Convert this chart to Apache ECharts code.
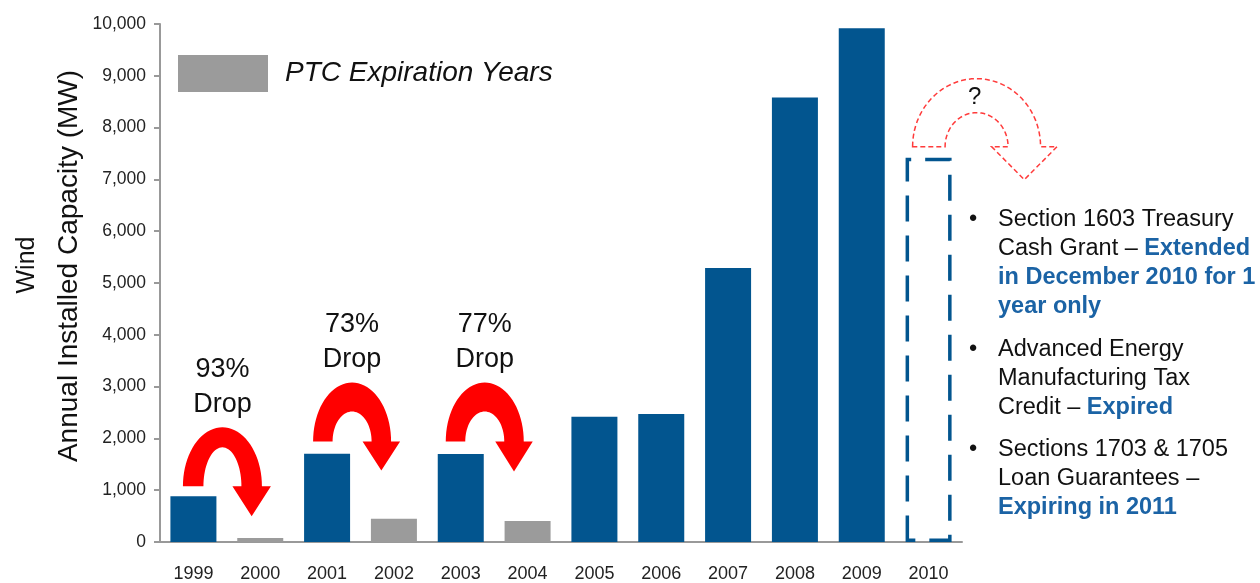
<!DOCTYPE html>
<html>
<head>
<meta charset="utf-8">
<script src="https://cdn.jsdelivr.net/npm/echarts@6/dist/echarts.min.js"></script>
<style>
html,body{margin:0;padding:0;background:#fff}
#main{width:1260px;height:583px}
</style>
</head>
<body>
<div id="main"></div>
<script>
// data
var years = ['1999', '2000', '2001', '2002', '2003', '2004', '2005', '2006', '2007', '2008', '2009', '2010'];
var capacity = [885, 75, 1705, 450, 1700, 405, 2420, 2470, 5290, 8580, 9920, '-'];
var ptcYears = ['2000', '2002', '2004'];
var pendingYear = '2010';
var pendingValue = 7420;
var dropLabels = ['93%', '73%', '77%'];
var dropFrom = ['1999', '2001', '2003'];

var notes = [
  [[['n', 'Section 1603 Treasury']], [['n', 'Cash Grant – '], ['b', 'Extended']], [['b', 'in December 2010 for 1']], [['b', 'year only']]],
  [[['n', 'Advanced Energy']], [['n', 'Manufacturing Tax']], [['n', 'Credit – '], ['b', 'Expired']]],
  [[['n', 'Sections 1703 & 1705']], [['n', 'Loan Guarantees – ']], [['b', 'Expiring in 2011']]]
];

var BLUE = '#02558F', GREY = '#9B9B9B', TXTBLUE = '#1B63A5', FONT = "'Liberation Sans', Arial, sans-serif";

var mainData = [], ptcData = [], pendData = [];
for (var i = 0; i < years.length; i++) {
  var isPtc = ptcYears.indexOf(years[i]) >= 0;
  mainData.push(isPtc ? '-' : capacity[i]);
  ptcData.push(isPtc ? capacity[i] : '-');
  pendData.push(years[i] === pendingYear ? pendingValue : '-');
}

function fmt(v) { return String(v).replace(/\B(?=(\d{3})+(?!\d))/g, ','); }

var chart = echarts.init(document.getElementById('main'));
var option = {
  animation: false,
  textStyle: { fontFamily: FONT },
  grid: { left: 160, right: 298, top: 24, bottom: 40 },
  legend: {
    data: [{ name: 'PTC Expiration Years', icon: 'rect' }],
    left: 178, top: 55, padding: 0,
    itemWidth: 90, itemHeight: 37,
    textStyle: { fontSize: 28, fontStyle: 'italic', color: '#111', fontFamily: FONT, padding: [0, 0, 0, 12] }
  },
  xAxis: {
    type: 'category',
    data: years,
    axisLine: { lineStyle: { color: '#999', width: 2 } },
    axisTick: { length: 6, lineStyle: { color: '#999', width: 2 } },
    axisLabel: { fontSize: 18, color: '#222', margin: 23 }
  },
  yAxis: {
    type: 'value',
    min: 0, max: 10000, interval: 1000,
    splitLine: { show: false },
    axisLine: { show: true, lineStyle: { color: '#999', width: 2 } },
    axisTick: { show: true, length: 6, lineStyle: { color: '#999', width: 2 } },
    axisLabel: { fontSize: 17.5, color: '#222', margin: 14, padding: [6, 0, 0, 0], formatter: fmt }
  },
  series: [
    { name: 'Installed', type: 'bar', data: mainData, barWidth: 46, barGap: '-100%', itemStyle: { color: BLUE } },
    { name: 'PTC Expiration Years', type: 'bar', data: ptcData, barWidth: 46, barGap: '-100%', itemStyle: { color: GREY } },
    {
      name: 'Pending', type: 'bar', data: pendData, barWidth: 46, barGap: '-100%',
      itemStyle: { color: 'rgba(0,0,0,0)', borderColor: BLUE, borderWidth: 3.5, borderType: [26, 14], borderDashOffset: 18 }
    }
  ]
};
chart.setOption(option);

// curved arrow outline: outer half ellipse, arrow head on the right leg, inner half ellipse back
function arrowPoints(cx, cy, rox, roy, rix, riy, ext, depth) {
  var pts = [], n = 40, t, k;
  for (k = 0; k <= n; k++) {
    t = Math.PI - Math.PI * k / n;
    pts.push([cx + rox * Math.cos(t), cy - roy * Math.sin(t)]);
  }
  pts.push([cx + rox + ext, cy]);
  pts.push([cx + (rox + rix) / 2, cy + depth]);
  pts.push([cx + rix - ext, cy]);
  for (k = 0; k <= n; k++) {
    t = Math.PI * k / n;
    pts.push([cx + rix * Math.cos(t), cy - riy * Math.sin(t)]);
  }
  return pts;
}

var arrowShape = [
  { base: 1075, dx: 29, rox: 39.5, roy: 59, rix: 19, riy: 39, ext: 9, depth: 30 },
  { base: 1940, dx: 25, rox: 39, roy: 59, rix: 19.5, riy: 30, ext: 9, depth: 29 },
  { base: 1940, dx: 24, rox: 39, roy: 59, rix: 19.5, riy: 30, ext: 9, depth: 30 }
];

var graphics = [];
dropFrom.forEach(function (yr, i) {
  var a = arrowShape[i];
  var p = chart.convertToPixel({ seriesIndex: 0 }, [yr, a.base]);
  var cx = p[0] + a.dx, cy = p[1];
  graphics.push({ type: 'polygon', silent: true, shape: { points: arrowPoints(cx, cy, a.rox, a.roy, a.rix, a.riy, a.ext, a.depth) }, style: { fill: '#FF0000' } });
  graphics.push({
    type: 'text', x: cx, y: cy - a.roy - 40,
    style: { text: dropLabels[i] + '\nDrop', fill: '#111', fontSize: 27, fontFamily: FONT, align: 'center', verticalAlign: 'middle', lineHeight: 35 }
  });
});

// dashed "?" arrow above the 2010 box
var q = chart.convertToPixel({ seriesIndex: 0 }, [pendingYear, pendingValue]);
var qcx = q[0] + 48, qcy = q[1] - 11;
graphics.push({
  type: 'polygon', silent: true,
  shape: { points: arrowPoints(qcx, qcy, 64, 68, 31.5, 34, 16.5, 33) },
  style: { fill: 'none', stroke: '#FF3B3B', lineWidth: 1.5, lineDash: [5, 3] }
});
graphics.push({ type: 'text', x: qcx - 2, y: qcy - 49, style: { text: '?', fill: '#111', fontSize: 24, fontFamily: FONT, align: 'center', verticalAlign: 'middle' } });

// y axis titles
graphics.push({ type: 'text', x: 27, y: 265, rotation: Math.PI / 2, style: { text: 'Wind', fill: '#111', fontSize: 25, fontFamily: FONT, align: 'center', verticalAlign: 'middle' } });
graphics.push({ type: 'text', x: 69, y: 266, rotation: Math.PI / 2, style: { text: 'Annual Installed Capacity (MW)', fill: '#111', fontSize: 28, fontFamily: FONT, align: 'center', verticalAlign: 'middle' } });

// bullet notes on the right
var noteTop = [205, 335, 435];
notes.forEach(function (para, i) {
  var txt = para.map(function (line) {
    return line.map(function (seg) { return '{' + seg[0] + '|' + seg[1] + '}'; }).join('');
  }).join('\n');
  graphics.push({ type: 'text', x: 969, y: noteTop[i], style: { text: '•', fill: '#111', fontSize: 23.5, fontFamily: FONT, lineHeight: 29 } });
  graphics.push({
    type: 'text', x: 998, y: noteTop[i],
    style: {
      text: txt, fontSize: 23.5, fontFamily: FONT, lineHeight: 29,
      rich: {
        n: { fill: '#111', fontSize: 23.5, fontFamily: FONT, lineHeight: 29 },
        b: { fill: TXTBLUE, fontSize: 23.5, fontWeight: 'bold', fontFamily: FONT, lineHeight: 29 }
      }
    }
  });
});

chart.setOption({ graphic: graphics });
</script>
</body>
</html>
